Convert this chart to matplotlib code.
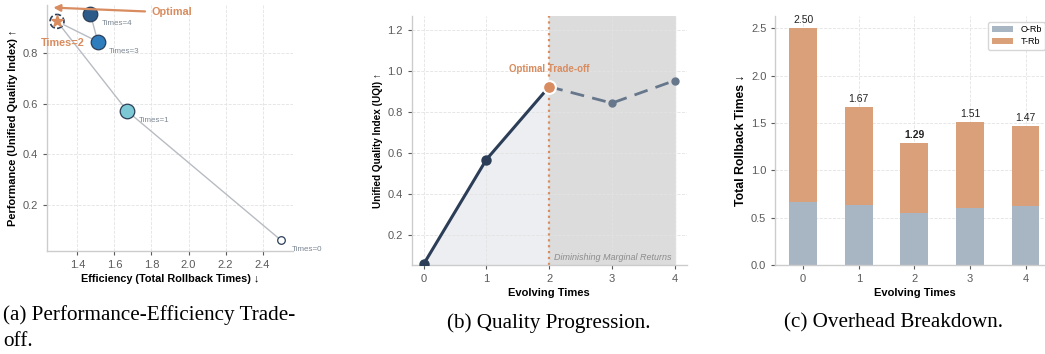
import numpy as np
import matplotlib
matplotlib.use("Agg")
import matplotlib.pyplot as plt

# data
times = [0, 1, 2, 3, 4]
rollback_total = [2.50, 1.67, 1.29, 1.51, 1.47]
uqi = [0.06, 0.57, 0.925, 0.845, 0.955]
o_rb = [0.67, 0.63, 0.55, 0.60, 0.62]
t_rb = [t - o for t, o in zip(rollback_total, o_rb)]
point_colors = ["#ffffff", "#7cc8d4", "#2c5b8a", "#2f7dbd", "#2c5b8a"]
best = 2

NAVY = "#2c3e57"
ORANGE = "#d98c5f"
GRAY_TXT = "#5a5a5a"
SPINE = "#cccccc"

plt.rcParams["font.family"] = ["Liberation Sans", "DejaVu Sans"]


def style_ax(ax):
    for s in ("top", "right"):
        ax.spines[s].set_visible(False)
    for s in ("left", "bottom"):
        ax.spines[s].set_color(SPINE)
        ax.spines[s].set_linewidth(1.0)
    ax.grid(True, ls="--", lw=0.6, color="#e3e3e3")
    ax.set_axisbelow(True)
    ax.tick_params(labelsize=8, colors=GRAY_TXT, length=3, width=0.8)
    for lab in ax.get_xticklabels() + ax.get_yticklabels():
        lab.set_color(GRAY_TXT)


fig = plt.figure(figsize=(10.45, 3.54), dpi=100)

# ---------- (a) performance vs efficiency
ax1 = fig.add_axes([0.045, 0.291, 0.235, 0.695])
ax1.plot(rollback_total, uqi, color="#b8bcc2", lw=1.0, zorder=1)
for i, (x, y) in enumerate(zip(rollback_total, uqi)):
    if i == best:
        ax1.scatter(x, y, s=100, facecolor="white", edgecolor=NAVY, lw=1.2,
                    linestyle="--", zorder=3)
        ax1.scatter(x, y, s=80, marker="*", color=ORANGE, zorder=4)
        continue
    size = 30 if i == 0 else 110
    ax1.scatter(x, y, s=size, facecolor=point_colors[i], edgecolor=NAVY,
                lw=0.9, zorder=3)
    ax1.annotate(f"Times={times[i]}", (x, y), xytext=(8, -8),
                 textcoords="offset points", fontsize=5.8, color="#7a8591")
ax1.annotate("", xy=(1.255, 0.98), xytext=(1.78, 0.964),
             arrowprops=dict(arrowstyle="-|>", color=ORANGE, lw=1.6))
ax1.text(1.80, 0.962, "Optimal", color=ORANGE, fontsize=7.8, fontweight="bold",
         va="center")
ax1.text(1.32, 0.84, "Times=2", color=ORANGE, fontsize=7.8, fontweight="bold",
         ha="center", va="center")
ax1.set_xlim(1.236, 2.562)
ax1.set_ylim(0.018, 0.99)
ax1.set_xticks([1.4, 1.6, 1.8, 2.0, 2.2, 2.4])
ax1.set_yticks([0.2, 0.4, 0.6, 0.8])
ax1.set_xlabel("Efficiency (Total Rollback Times) \u2193", fontsize=7.8,
               fontweight="bold", labelpad=3)
ax1.set_ylabel("Performance (Unified Quality Index) \u2191", fontsize=7.9,
               fontweight="bold", labelpad=3)
style_ax(ax1)

# ---------- (b) quality progression
ax2 = fig.add_axes([0.394, 0.251, 0.263, 0.704])
ax2.fill_between(times[:best + 1], uqi[:best + 1], 0, color="#eceef2", zorder=0)
ax2.axvspan(times[best], times[-1], color="#dcdcdc", zorder=0)
ax2.plot(times[:best + 1], uqi[:best + 1], color=NAVY, lw=2.2, marker="o",
         ms=6.5, zorder=3)
ax2.plot(times[best:], uqi[best:], color="#66778c", lw=2.0, ls="--",
         dashes=(5, 3), marker="o", ms=5, zorder=3)
ax2.axvline(times[best], color=ORANGE, ls=":", lw=1.6, zorder=2)
ax2.scatter(times[best], uqi[best], s=85, color=ORANGE, edgecolor="white",
            lw=1.5, zorder=5)
ax2.text(times[best], 1.01, "Optimal Trade-off", color=ORANGE, fontsize=7,
         fontweight="bold", ha="center", va="center")
ax2.text(3.95, 0.072, "Diminishing Marginal Returns", color="#8c8c8c",
         fontsize=6.5, style="italic", ha="right", va="bottom")
ax2.set_xlim(-0.19, 4.19)
ax2.set_ylim(0.055, 1.27)
ax2.set_xticks(times)
ax2.set_yticks([0.2, 0.4, 0.6, 0.8, 1.0, 1.2])
ax2.set_xlabel("Evolving Times", fontsize=8, fontweight="bold", labelpad=3)
ax2.set_ylabel("Unified Quality Index (UQI) \u2191", fontsize=7.2,
               fontweight="bold", labelpad=3)
style_ax(ax2)

# ---------- (c) overhead breakdown (runs past the right edge, as in the paper)
ax3 = fig.add_axes([0.742, 0.251, 0.266, 0.704])
ax3.bar(times, o_rb, width=0.5, color="#a8b5c3", label="O-Rb", zorder=2)
ax3.bar(times, t_rb, width=0.5, bottom=o_rb, color="#d9a07a", label="T-Rb",
        zorder=2)
for i, tot in enumerate(rollback_total):
    ax3.text(times[i], tot + 0.035, f"{tot:.2f}", ha="center", va="bottom",
             fontsize=7.5, color="#222222",
             fontweight="bold" if i == best else "normal")
ax3.set_xlim(-0.5, 4.5)
ax3.set_ylim(0, 2.63)
ax3.set_xticks(times)
ax3.set_yticks([0.0, 0.5, 1.0, 1.5, 2.0, 2.5])
ax3.set_xlabel("Evolving Times", fontsize=8, fontweight="bold", labelpad=3)
ax3.set_ylabel("Total Rollback Times \u2193", fontsize=8.8, fontweight="bold",
               labelpad=3)
leg = ax3.legend(loc="upper right", bbox_to_anchor=(0.97, 0.975), fontsize=6.5,
                 frameon=True, handlelength=2.4, handleheight=0.6,
                 labelspacing=0.35, borderpad=0.35, borderaxespad=0)
leg.get_frame().set_edgecolor("#cccccc")
style_ax(ax3)

# captions
cap = dict(family=["Liberation Serif", "DejaVu Serif"], fontsize=15.2, color="black")
fig.text(0.003, 0.11, "(a) Performance-Efficiency Trade-", ha="left",
         va="center", **cap)
fig.text(0.003, 0.035, "off.", ha="left", va="center", **cap)
fig.text(0.525, 0.088, "(b) Quality Progression.", ha="center", va="center", **cap)
fig.text(0.855, 0.088, "(c) Overhead Breakdown.", ha="center", va="center", **cap)

fig.savefig("out.png", dpi=100)
